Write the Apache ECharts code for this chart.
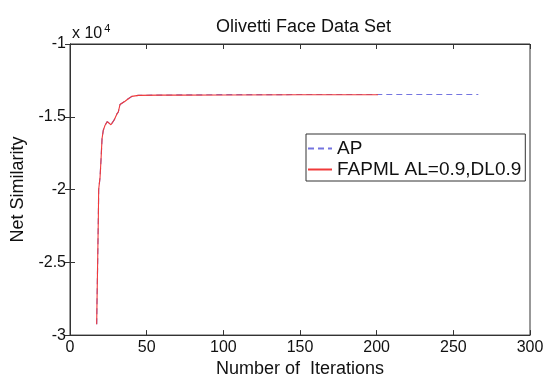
<!DOCTYPE html>
<html>
<head>
<meta charset="utf-8">
<script src="https://cdn.jsdelivr.net/npm/echarts@6/dist/echarts.min.js"></script>
<style>html,body{margin:0;padding:0;background:#fff}#c{width:549px;height:383px}</style>
</head>
<body>
<div id="c"></div>
<script>
// FAPML AL=0.9,DL0.9 : iterations and net similarity
var fapmlIter = [17.4, 17.6, 18.1, 18.5, 18.7, 19.6, 20.2, 20.9, 21.7, 22.8, 24.3, 25.6, 26.7, 27.9, 28.9, 30.5, 31.5, 32.6, 33.7, 35.9, 38.0, 40.3, 44.6, 58.7, 71.8, 100, 150, 200.9];
var fapmlVal  = [-29250, -27800, -24600, -21800, -20000, -19160, -18000, -16500, -15930, -15600, -15330, -15380, -15550, -15490, -15200, -14820, -14670, -14160, -14040, -13930, -13760, -13600, -13530, -13510, -13510, -13500, -13490, -13490];
// AP
var apIter = [17.4, 17.6, 18.1, 18.5, 18.7, 19.6, 20.2, 20.9, 21.7, 22.8, 24.3, 25.6, 26.7, 27.9, 28.9, 30.5, 31.5, 32.6, 33.7, 35.9, 38.0, 40.3, 44.6, 58.7, 71.8, 100, 150, 200, 266.3];
var apVal  = [-29250, -27800, -24600, -21800, -20000, -19160, -18000, -16500, -15930, -15600, -15330, -15380, -15550, -15490, -15200, -14820, -14670, -14160, -14040, -13930, -13760, -13600, -13530, -13510, -13500, -13480, -13470, -13470, -13470];
var xTicks = [0, 50, 100, 150, 200, 250, 300];
var yTicks = [-10000, -15000, -20000, -25000, -30000];

function pairs(xs, ys) { return xs.map(function (x, i) { return [x, ys[i]]; }); }

var chart = echarts.init(document.getElementById('c'), null, {renderer: 'canvas'});
var axisCol = '#333';
var apColor = '#7474e0';
var fapColor = '#f03a3a';
var font = 'Liberation Sans, Arial, Helvetica, sans-serif';
chart.setOption({
  backgroundColor: '#fff',
  animation: false,
  title: {
    text: 'Olivetti Face Data Set',
    left: 211, top: 13,
    textStyle: {fontFamily: font, fontSize: 18, fontWeight: 'normal', color: '#111'}
  },
  grid: {left: 70, right: 19, top: 44, bottom: 40, show: true, borderColor: axisCol, borderWidth: 1},
  legend: {
    show: true,
    orient: 'vertical', left: 306, top: 134,
    padding: [5, 4, 2, 1],
    itemWidth: 24, itemHeight: 14, itemGap: 2,
    borderColor: '#333', borderWidth: 1, backgroundColor: '#fff',
    itemStyle: {opacity: 0},
    textStyle: {fontFamily: font, fontSize: 19, color: '#111'},
    data: ['AP', 'FAPML AL=0.9,DL0.9']
  },
  xAxis: [{
    type: 'value', min: xTicks[0], max: xTicks[xTicks.length - 1], interval: 50,
    position: 'bottom',
    name: 'Number of  Iterations', nameLocation: 'middle', nameGap: 20,
    nameTextStyle: {fontFamily: font, fontSize: 18, color: '#111'},
    axisLine: {show: true, lineStyle: {color: axisCol}},
    axisTick: {show: true, inside: true, length: 5, lineStyle: {color: axisCol}},
    axisLabel: {fontFamily: font, fontSize: 16, color: '#111', margin: 4},
    splitLine: {show: false}
  }, {
    type: 'value', min: xTicks[0], max: xTicks[xTicks.length - 1], interval: 50,
    position: 'top',
    axisLine: {show: true, lineStyle: {color: axisCol}},
    axisTick: {show: true, inside: true, length: 5, lineStyle: {color: axisCol}},
    axisLabel: {show: false}, splitLine: {show: false}
  }],
  yAxis: [{
    type: 'value', min: yTicks[yTicks.length - 1], max: yTicks[0], interval: 5000,
    position: 'left',
    name: 'Net Similarity', nameLocation: 'middle', nameGap: 37, nameRotate: 90,
    nameTextStyle: {fontFamily: font, fontSize: 18, color: '#111'},
    axisLine: {show: true, lineStyle: {color: axisCol}},
    axisTick: {show: true, inside: true, length: 5, lineStyle: {color: axisCol}},
    axisLabel: {fontFamily: font, fontSize: 16, color: '#111', margin: 4,
      formatter: function (v) { return String(v / 10000); }},
    splitLine: {show: false}
  }, {
    type: 'value', min: yTicks[yTicks.length - 1], max: yTicks[0], interval: 5000,
    position: 'right',
    axisLine: {show: true, lineStyle: {color: axisCol}},
    axisTick: {show: true, inside: true, length: 5, lineStyle: {color: axisCol}},
    axisLabel: {show: false}, splitLine: {show: false}
  }],
  graphic: [{
    type: 'text', left: 72, top: 23,
    style: {
      text: '{a|x 10}{b|4}',
      rich: {
        a: {fontFamily: font, fontSize: 16, fill: '#111', verticalAlign: 'bottom'},
        b: {fontFamily: font, fontSize: 11, fill: '#111', verticalAlign: 'top', padding: [0, 0, 8, 2]}
      }
    }
  }],
  series: [{
    name: 'AP', type: 'line', xAxisIndex: 0, yAxisIndex: 0,
    data: pairs(apIter, apVal), symbol: 'none', showSymbol: false,
    lineStyle: {color: apColor, width: 1.2, type: [6, 4]},
    itemStyle: {color: apColor}, z: 2
  }, {
    name: 'FAPML AL=0.9,DL0.9', type: 'line', xAxisIndex: 0, yAxisIndex: 0,
    data: pairs(fapmlIter, fapmlVal), symbol: 'none', showSymbol: false,
    lineStyle: {color: fapColor, width: 1.1},
    itemStyle: {color: fapColor}, z: 3
  }]
});
</script>
</body>
</html>
